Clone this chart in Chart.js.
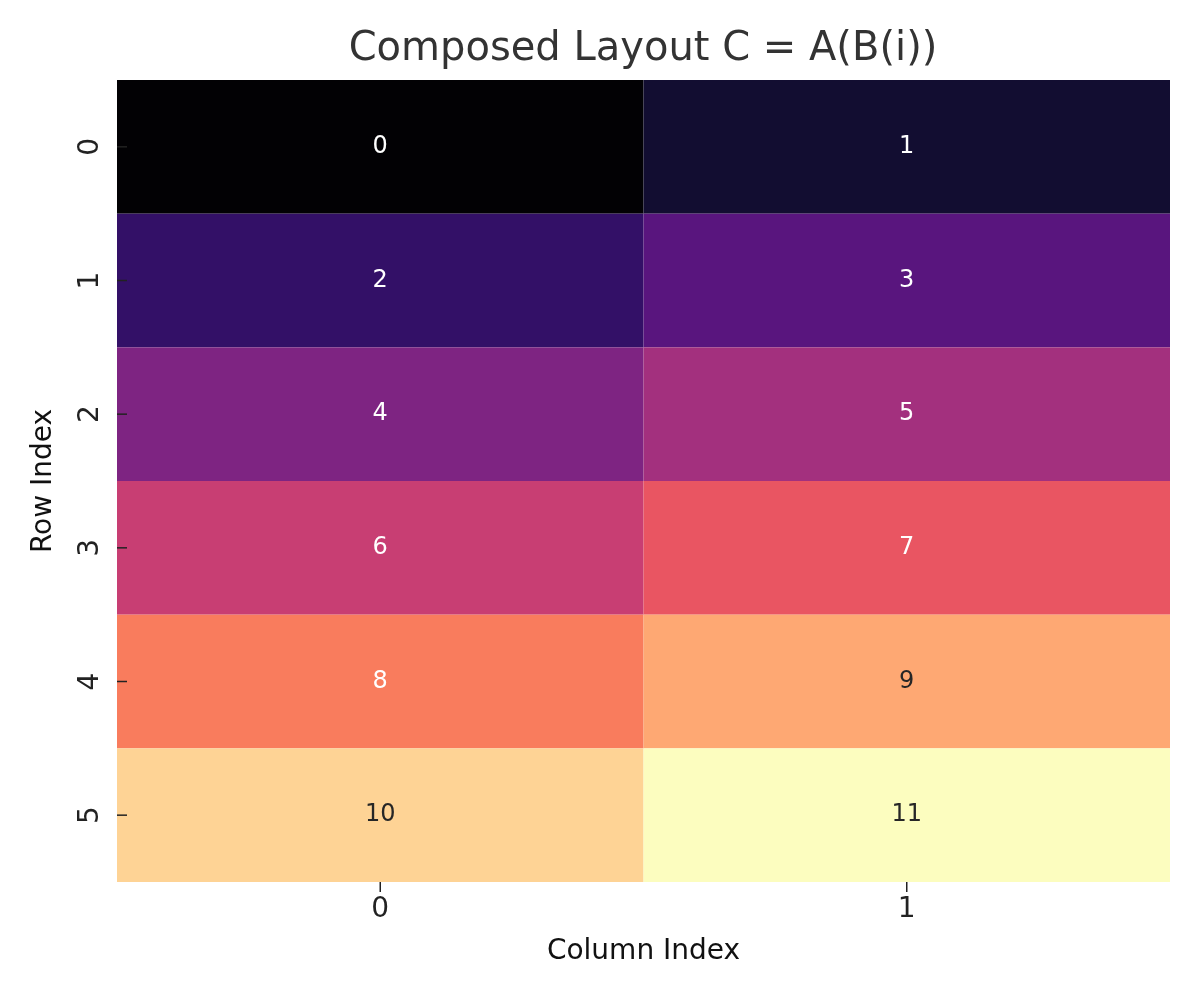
<!DOCTYPE html>
<html>
<head>
<meta charset="utf-8">
<script src="https://cdn.jsdelivr.net/npm/chart.js@4/dist/chart.umd.min.js"></script>
<style>body{margin:0;background:#fff}</style>
</head>
<body>
<canvas id="c" width="1200" height="1000"></canvas>
<script>
// heatmap data
const rowLabels = ['0', '1', '2', '3', '4', '5'];
const colLabels = ['0', '1'];
const values = [
  [0, 1],
  [2, 3],
  [4, 5],
  [6, 7],
  [8, 9],
  [10, 11]
];
// magma samples, one per value 0..11
const palette = ['#020104', '#120d31', '#331067', '#59157e', '#7e2482', '#a3307e',
                 '#c83e73', '#e95562', '#f97c5d', '#fea873', '#fed395', '#fcfdbf'];

const FONT = '"DejaVu Sans", sans-serif';

const heatmap = {
  id: 'heatmap',
  beforeDatasetsDraw(chart) {
    const ctx = chart.ctx, x = chart.scales.x, y = chart.scales.y;
    ctx.save();
    values.forEach((row, r) => {
      row.forEach((v, c) => {
        const x0 = x.getPixelForValue(c - 0.5), x1 = x.getPixelForValue(c + 0.5);
        const y0 = y.getPixelForValue(r - 0.5), y1 = y.getPixelForValue(r + 0.5);
        ctx.fillStyle = palette[v];
        ctx.fillRect(x0, y0, x1 - x0, y1 - y0);
        ctx.fillStyle = v >= 9 ? '#262626' : '#ffffff';
        ctx.font = '24px ' + FONT;
        ctx.textAlign = 'center';
        ctx.textBaseline = 'middle';
        ctx.fillText(String(v), (x0 + x1) / 2, (y0 + y1) / 2);
      });
    });
    // ticks and labels
    ctx.strokeStyle = '#222';
    ctx.lineWidth = 1.5;
    ctx.fillStyle = '#222';
    ctx.font = '28px ' + FONT;
    const area = chart.chartArea;
    colLabels.forEach((lab, c) => {
      const px = x.getPixelForValue(c);
      ctx.beginPath(); ctx.moveTo(px, area.bottom); ctx.lineTo(px, area.bottom + 10); ctx.stroke();
      ctx.textAlign = 'center'; ctx.textBaseline = 'top';
      ctx.fillText(lab, px, area.bottom + 14);
    });
    rowLabels.forEach((lab, r) => {
      const py = y.getPixelForValue(r);
      ctx.beginPath(); ctx.moveTo(area.left, py); ctx.lineTo(area.left + 10, py); ctx.stroke();
      ctx.save();
      ctx.translate(area.left - 26, py);
      ctx.rotate(-Math.PI / 2);
      ctx.textAlign = 'center'; ctx.textBaseline = 'middle';
      ctx.fillText(lab, 0, 0);
      ctx.restore();
    });
    // axis titles
    ctx.fillStyle = '#111';
    ctx.font = '28px ' + FONT;
    ctx.textAlign = 'center'; ctx.textBaseline = 'middle';
    ctx.fillText('Column Index', (area.left + area.right) / 2, 952);
    ctx.save();
    ctx.translate(44, (area.top + area.bottom) / 2);
    ctx.rotate(-Math.PI / 2);
    ctx.fillText('Row Index', 0, 0);
    ctx.restore();
    ctx.fillStyle = '#333';
    ctx.font = '40px ' + FONT;
    ctx.fillText('Composed Layout C = A(B(i))', 643, 50);
    ctx.restore();
  }
};

new Chart(document.getElementById('c'), {
  type: 'scatter',
  data: { datasets: [{ data: [], pointRadius: 0 }] },
  options: {
    responsive: false,
    devicePixelRatio: 1,
    animation: false,
    layout: { padding: { top: 80, right: 30, left: 0, bottom: 0 } },
    plugins: { legend: { display: false }, tooltip: { enabled: false } },
    scales: {
      x: {
        type: 'linear', min: -0.5, max: 1.5,
        ticks: { display: false }, grid: { display: false }, border: { display: false },
        afterFit(s) { s.height = 118; }
      },
      y: {
        type: 'linear', min: -0.5, max: 5.5, reverse: true,
        ticks: { display: false }, grid: { display: false }, border: { display: false },
        afterFit(s) { s.width = 117; }
      }
    }
  },
  plugins: [heatmap]
});
</script>
</body>
</html>
